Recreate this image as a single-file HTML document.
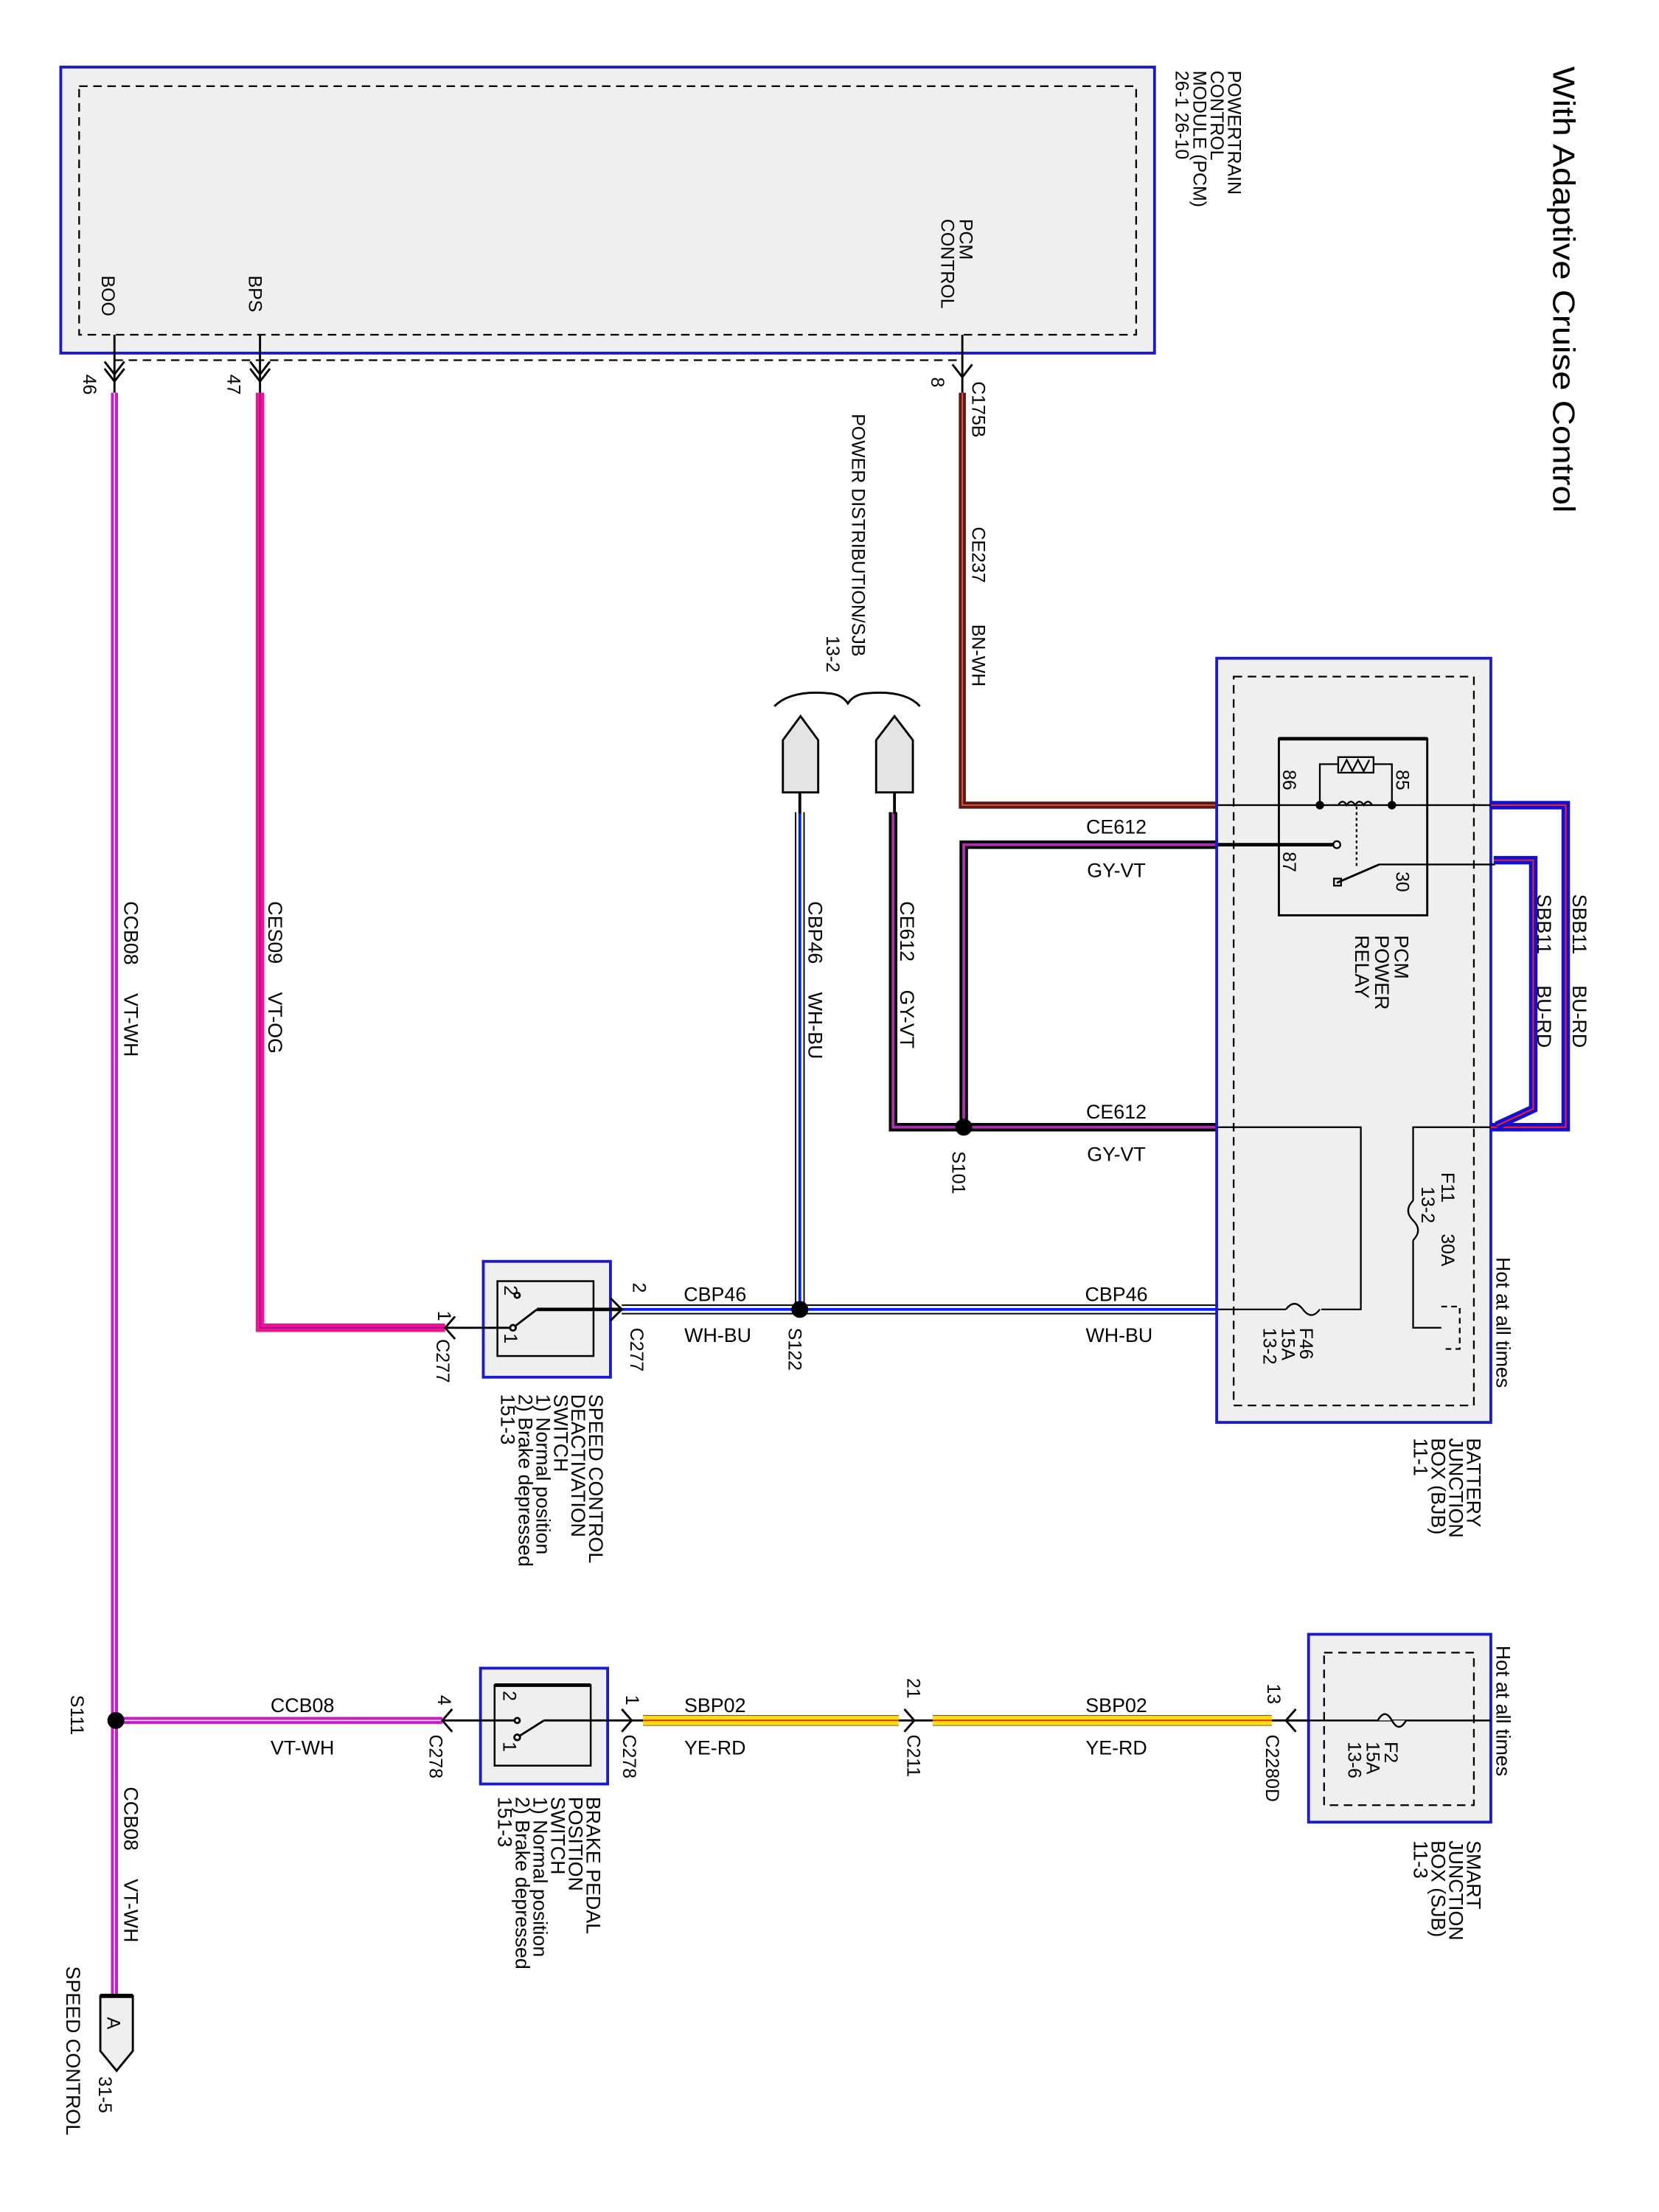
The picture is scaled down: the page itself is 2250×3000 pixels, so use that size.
<!DOCTYPE html>
<html><head><meta charset="utf-8"><style>
html,body{margin:0;padding:0;background:#fff;}
svg{display:block;}
text{font-family:"Liberation Sans",Arial,sans-serif;fill:#000;}
</style></head><body>
<svg width="2250" height="3000" viewBox="0 0 1174 1566" preserveAspectRatio="none" xmlns="http://www.w3.org/2000/svg">
<!-- Title -->
<text transform="translate(1099 47) rotate(90)" font-size="22" textLength="316" lengthAdjust="spacingAndGlyphs">With Adaptive Cruise Control</text>

<!-- PCM box -->
<rect x="43" y="47.5" width="774" height="202.5" fill="#efefef" stroke="#1a1ad0" stroke-width="2"/>
<rect x="56" y="61" width="748" height="176" fill="none" stroke="#000" stroke-width="1.2" stroke-dasharray="6,4"/>
<line x1="81" y1="255" x2="681" y2="255" stroke="#000" stroke-width="1.2" stroke-dasharray="6,4"/>
<g font-size="13">
<text transform="translate(869 50) rotate(90)">POWERTRAIN<tspan x="0" dy="12.3">CONTROL</tspan><tspan x="0" dy="12.3">MODULE (PCM)</tspan><tspan x="0" dy="12.3">26-1   26-10</tspan></text>
<text transform="translate(679 155) rotate(90)">PCM<tspan x="0" dy="13">CONTROL</tspan></text>
<text transform="translate(72 195) rotate(90)">BOO</text>
<text transform="translate(176 195) rotate(90)">BPS</text>
<text transform="translate(59 265) rotate(90)">46</text>
<text transform="translate(161 265) rotate(90)">47</text>
<text transform="translate(659 267) rotate(90)">8</text>
<text transform="translate(688 270) rotate(90)">C175B</text>
<text transform="translate(688 373) rotate(90)">CE237</text>
<text transform="translate(688 442) rotate(90)">BN-WH</text>
<text transform="translate(603 293) rotate(90)">POWER DISTRIBUTION/SJB</text>
<text transform="translate(585 450) rotate(90)">13-2</text>
</g>
<g stroke="#000" stroke-width="1.5" fill="none">
<line x1="81" y1="237" x2="81" y2="278"/><line x1="184" y1="237" x2="184" y2="278"/><line x1="681" y1="237" x2="681" y2="278"/>
<path d="M74,256 L81,265 L88,256 M74,261 L81,270 L88,261"/>
<path d="M177,256 L184,265 L191,256 M177,261 L184,270 L191,261"/>
<path d="M674,258 L681,267 L688,258"/>
</g>

<!-- Wires -->
<line x1="81" y1="278" x2="81" y2="1418" stroke="#c81ec8" stroke-width="5"/>
<line x1="81" y1="278" x2="81" y2="1418" stroke="#fff" stroke-width="0.8"/>
<line x1="82" y1="1218" x2="313" y2="1218" stroke="#c81ec8" stroke-width="5"/>
<line x1="82" y1="1218" x2="313" y2="1218" stroke="#fff" stroke-width="0.8"/>
<path d="M184,278 V940 H315" fill="none" stroke="#e8198c" stroke-width="6"/>
<path d="M184,278 V940 H315" fill="none" stroke="#c000a0" stroke-width="1"/>
<path d="M681,278 V570 H862" fill="none" stroke="#5c1a10" stroke-width="5"/>
<path d="M681,278 V570 H862" fill="none" stroke="#e05050" stroke-width="1"/>
<path d="M862,598 H682 V798 H862" fill="none" stroke="#000" stroke-width="6"/>
<path d="M862,598 H682 V798 H862" fill="none" stroke="#b030b0" stroke-width="2"/>
<path d="M682,798 H632 V575" fill="none" stroke="#000" stroke-width="6"/>
<path d="M682,798 H632 V575" fill="none" stroke="#b030b0" stroke-width="2"/>
<path d="M566,575 V927" fill="none" stroke="#000" stroke-width="7"/>
<path d="M566,575 V927" fill="none" stroke="#fff" stroke-width="5"/>
<path d="M566,575 V927" fill="none" stroke="#0020ff" stroke-width="2"/>
<path d="M440,927 H862" fill="none" stroke="#000" stroke-width="7"/>
<path d="M440,927 H862" fill="none" stroke="#fff" stroke-width="5"/>
<path d="M440,927 H862" fill="none" stroke="#0020ff" stroke-width="2"/>
<path d="M455,1218 H636 M660,1218 H900" fill="none" stroke="#ffe000" stroke-width="6"/>
<path d="M455,1218 H636 M660,1218 H900" fill="none" stroke="#e02020" stroke-width="1"/>
<path d="M455,1214.5 H636 M660,1214.5 H900 M455,1221.5 H636 M660,1221.5 H900" fill="none" stroke="#806000" stroke-width="0.6"/>

<circle cx="682" cy="798" r="6" fill="#000"/>
<circle cx="566" cy="927" r="6" fill="#000"/>
<circle cx="82" cy="1218" r="6" fill="#000"/>

<path d="M548,500 Q560,488 588,491 Q596,492 600,498 Q604,492 612,491 Q640,488 651,500" fill="none" stroke="#000" stroke-width="1.5"/>
<g fill="#e4e4e4" stroke="#000" stroke-width="1.5">
<path d="M554,561 V524 L566.5,507 L579,524 V561 Z"/>
<path d="M620,561 V524 L633,507 L646,524 V561 Z"/>
</g>
<line x1="566" y1="561" x2="566" y2="576" stroke="#000" stroke-width="2"/>
<line x1="633" y1="561" x2="633" y2="576" stroke="#000" stroke-width="2"/>

<!-- Battery junction box -->
<rect x="861" y="466" width="194" height="541" fill="#efefef" stroke="#1a1ad0" stroke-width="2"/>
<rect x="873" y="479" width="170" height="516" fill="none" stroke="#000" stroke-width="1.2" stroke-dasharray="6,4"/>
<rect x="905" y="523" width="105" height="125" fill="none" stroke="#000" stroke-width="1.5"/>
<line x1="905" y1="523" x2="1010" y2="523" stroke="#000" stroke-width="2.5"/>
<g stroke="#000" fill="none" stroke-width="1.2">
<line x1="862" y1="570" x2="1055" y2="570"/>
<line x1="862" y1="598" x2="946" y2="598" stroke-width="2.5"/>
<line x1="976" y1="612" x2="1058" y2="612"/>
<path d="M934,570 V541 H947 M972,541 H985 V570"/>
<rect x="947" y="536" width="25" height="11"/>
<path d="M949,546 L953,538 L957,546 L961,538 L965,546 L969,538"/>
<path d="M947,570 q3,-5 6,0 q3,-5 6,0 q3,-5 6,0 q3,-5 6,0"/>
<line x1="960" y1="571" x2="960" y2="613" stroke-dasharray="2,2"/>
<line x1="946" y1="625" x2="976" y2="612" stroke-width="1.5"/>
<circle cx="946" cy="598" r="2.5" fill="#fff"/>
<rect x="944" y="622" width="5" height="5"/>
<path d="M862,927 H910 M935,927 H963 V798 H862"/>
<path d="M910,927 q6,-8 12,0 q6,8 12,0"/>
<path d="M1055,798 H1000 V850 M1000,878 V940 H1020"/>
<path d="M1000,850 q-7,7 0,14 q7,7 0,14"/>
<path d="M1020,925 H1033 V955 H1020" stroke-dasharray="4,3"/>
</g>
<circle cx="934" cy="570" r="3" fill="#000"/><circle cx="985" cy="570" r="3" fill="#000"/>
<path d="M1055,570 H1108 V798 H1055" fill="none" stroke="#1010d0" stroke-width="6"/>
<path d="M1055,570 H1108 V798 H1055" fill="none" stroke="#ff2020" stroke-width="1"/>
<path d="M1057,609 H1085 V785 L1059,797" fill="none" stroke="#1010d0" stroke-width="6"/>
<path d="M1057,609 H1085 V785 L1059,797" fill="none" stroke="#ff2020" stroke-width="1"/>

<g font-size="13">
<text transform="translate(908 545) rotate(90)">86</text>
<text transform="translate(988 545) rotate(90)">85</text>
<text transform="translate(908 603) rotate(90)">87</text>
<text transform="translate(988 617) rotate(90)">30</text>
<text transform="translate(987 662) rotate(90)" font-size="14">PCM<tspan x="0" dy="14">POWER</tspan><tspan x="0" dy="14">RELAY</tspan></text>
<text transform="translate(1113 633) rotate(90)" font-size="14">SBB11<tspan dx="22">BU-RD</tspan></text>
<text transform="translate(1088 633) rotate(90)" font-size="14">SBB11<tspan dx="22">BU-RD</tspan></text>
<text transform="translate(1020 830) rotate(90)">F11<tspan dx="22">30A</tspan></text>
<text transform="translate(1006 840) rotate(90)">13-2</text>
<text transform="translate(1059 890) rotate(90)" font-size="14">Hot at all times</text>
<text transform="translate(920 940) rotate(90)">F46<tspan x="0" dy="13">15A</tspan><tspan x="0" dy="13">13-2</tspan></text>
<text transform="translate(1038 1018) rotate(90)" font-size="14">BATTERY<tspan x="0" dy="12.5">JUNCTION</tspan><tspan x="0" dy="12.5">BOX (BJB)</tspan><tspan x="0" dy="12.5">11-1</tspan></text>
<text transform="translate(674 815) rotate(90)">S101</text>
<text transform="translate(558 940) rotate(90)">S122</text>
<text transform="translate(50 1200) rotate(90)">S111</text>
</g>
<g font-size="14" text-anchor="middle">
<text x="790" y="590">CE612</text><text x="790" y="621">GY-VT</text>
<text x="790" y="792">CE612</text><text x="790" y="822">GY-VT</text>
<text x="790" y="921">CBP46</text><text x="792" y="950">WH-BU</text>
<text x="506" y="921">CBP46</text><text x="508" y="950">WH-BU</text>
<text x="214" y="1212">CCB08</text><text x="214" y="1242">VT-WH</text>
<text x="506" y="1212">SBP02</text><text x="506" y="1242">YE-RD</text>
<text x="790" y="1212">SBP02</text><text x="790" y="1242">YE-RD</text>
</g>
<g font-size="14">
<text transform="translate(88 638) rotate(90)">CCB08<tspan dx="20">VT-WH</tspan></text>
<text transform="translate(190 638) rotate(90)">CES09<tspan dx="20">VT-OG</tspan></text>
<text transform="translate(572 638) rotate(90)">CBP46<tspan dx="20">WH-BU</tspan></text>
<text transform="translate(637 638) rotate(90)">CE612<tspan dx="20">GY-VT</tspan></text>
<text transform="translate(88 1265) rotate(90)">CCB08<tspan dx="20">VT-WH</tspan></text>
</g>

<!-- Speed control deactivation switch -->
<rect x="342" y="893" width="90" height="82" fill="#efefef" stroke="#1a1ad0" stroke-width="2"/>
<rect x="352" y="907" width="68" height="53" fill="none" stroke="#000" stroke-width="1.3"/>
<g stroke="#000" fill="none" stroke-width="1.5">
<line x1="380" y1="927" x2="440" y2="927" stroke-width="2.5"/>
<line x1="363" y1="940" x2="380" y2="927"/>
<line x1="315" y1="940" x2="363" y2="940"/>
<circle cx="366" cy="917" r="1.8" fill="#fff"/>
<circle cx="363" cy="940" r="2" fill="#fff"/>
<path d="M432,919 L440,927 L432,935"/>
<path d="M322,932 L315,940 L322,948"/>
</g>
<g font-size="13">
<text transform="translate(357 910) rotate(90)">2</text>
<text transform="translate(357 944) rotate(90)">1</text>
<text transform="translate(448 908) rotate(90)">2</text>
<text transform="translate(446 940) rotate(90)">C277</text>
<text transform="translate(310 928) rotate(90)">1</text>
<text transform="translate(309 948) rotate(90)">C277</text>
<text transform="translate(417 987) rotate(90)" font-size="14">SPEED CONTROL<tspan x="0" dy="12.5">DEACTIVATION</tspan><tspan x="0" dy="12.5">SWITCH</tspan><tspan x="0" dy="12.5">1) Normal position</tspan><tspan x="0" dy="12.5">2) Brake depressed</tspan><tspan x="0" dy="12.5">151-3</tspan></text>
</g>

<!-- Brake pedal position switch -->
<rect x="340" y="1181" width="90" height="82" fill="#efefef" stroke="#1a1ad0" stroke-width="2"/>
<rect x="350" y="1193" width="68" height="57" fill="none" stroke="#000" stroke-width="1.3"/>
<line x1="350" y1="1193" x2="418" y2="1193" stroke="#000" stroke-width="2.5"/>
<g stroke="#000" fill="none" stroke-width="1.5">
<line x1="313" y1="1218" x2="366" y2="1218"/>
<line x1="366" y1="1230" x2="385" y2="1218"/>
<line x1="385" y1="1218" x2="455" y2="1218"/>
<circle cx="366" cy="1218" r="1.8" fill="#fff"/>
<circle cx="366" cy="1230" r="2" fill="#fff"/>
<path d="M320,1210 L313,1218 L320,1226"/>
<path d="M440,1210 L447,1218 L440,1226"/>
<path d="M640,1210 L647,1218 L640,1226"/>
<line x1="636" y1="1218" x2="660" y2="1218"/>
<path d="M917,1210 L910,1218 L917,1226"/>
<line x1="900" y1="1218" x2="1055" y2="1218"/>
</g>
<g font-size="13">
<text transform="translate(356 1197) rotate(90)">2</text>
<text transform="translate(356 1233) rotate(90)">1</text>
<text transform="translate(310 1200) rotate(90)">4</text>
<text transform="translate(304 1228) rotate(90)">C278</text>
<text transform="translate(443 1200) rotate(90)">1</text>
<text transform="translate(441 1228) rotate(90)">C278</text>
<text transform="translate(642 1188) rotate(90)">21</text>
<text transform="translate(642 1228) rotate(90)">C211</text>
<text transform="translate(897 1192) rotate(90)">13</text>
<text transform="translate(896 1228) rotate(90)">C2280D</text>
<text transform="translate(415 1272) rotate(90)" font-size="14">BRAKE PEDAL<tspan x="0" dy="12.5">POSITION</tspan><tspan x="0" dy="12.5">SWITCH</tspan><tspan x="0" dy="12.5">1) Normal position</tspan><tspan x="0" dy="12.5">2) Brake depressed</tspan><tspan x="0" dy="12.5">151-3</tspan></text>
</g>

<!-- Smart junction box -->
<rect x="926" y="1157" width="129" height="133" fill="#efefef" stroke="#1a1ad0" stroke-width="2"/>
<rect x="937" y="1170" width="106" height="108" fill="none" stroke="#000" stroke-width="1.2" stroke-dasharray="6,4"/>
<line x1="912" y1="1218" x2="1055" y2="1218" stroke="#000" stroke-width="1.3"/>
<path d="M975,1218 q5,-9 10,0 q5,9 10,0" fill="#efefef" stroke="#000" stroke-width="1.3"/>
<g font-size="13">
<text transform="translate(980 1233) rotate(90)">F2<tspan x="0" dy="13">15A</tspan><tspan x="0" dy="13">13-6</tspan></text>
<text transform="translate(1059 1165) rotate(90)" font-size="14">Hot at all times</text>
<text transform="translate(1038 1303) rotate(90)" font-size="14">SMART<tspan x="0" dy="12.5">JUNCTION</tspan><tspan x="0" dy="12.5">BOX (SJB)</tspan><tspan x="0" dy="12.5">11-3</tspan></text>
</g>

<!-- connector A -->
<path d="M71,1413 H94 V1452 L82.5,1466 L71,1452 Z" fill="#efefef" stroke="#000" stroke-width="1.5"/>
<line x1="71" y1="1413" x2="94" y2="1413" stroke="#000" stroke-width="3"/>
<g font-size="13">
<text transform="translate(76 1428) rotate(90)">A</text>
<text transform="translate(70 1470) rotate(90)">31-5</text>
<text transform="translate(47 1392) rotate(90)" font-size="14">SPEED CONTROL</text>
</g>
</svg>
</body></html>
